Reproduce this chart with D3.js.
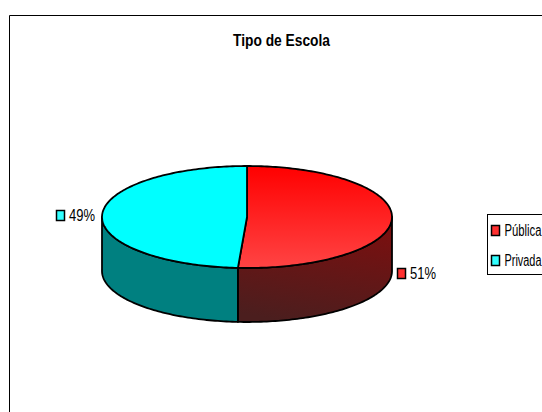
<!DOCTYPE html>
<html>
<head>
<meta charset="utf-8">
<script src="https://cdn.jsdelivr.net/npm/d3@7"></script>
<style>
  html, body { margin: 0; padding: 0; background: #fff; overflow: hidden; }
  svg { display: block; }
  text { font-family: "Liberation Sans", Arial, sans-serif; fill: #000; }
</style>
</head>
<body>
<script>
const chartTitle = "Tipo de Escola";
const categories = ["Pública", "Privada"];
const shares = [51, 49];
const topFills = ["url(#topRed)", "#00ffff"];
const sideFills = ["url(#sideRed)", "#008080"];
const swatchFills = ["#ff3030", "#33ffff"];

const width = 542, height = 412;
const cx = 247, cy = 217, rx = 145, ry = 51, depth = 54;

const svg = d3.select("body").append("svg")
  .attr("width", width).attr("height", height);

// Gradients for the red slice's lid and wall
const defs = svg.append("defs");
const lid = defs.append("linearGradient").attr("id", "topRed")
  .attr("x1", 0).attr("y1", 0).attr("x2", 0).attr("y2", 1);
lid.append("stop").attr("offset", 0).attr("stop-color", "#ff0000");
lid.append("stop").attr("offset", 1).attr("stop-color", "#ff4444");
const wall = defs.append("linearGradient").attr("id", "sideRed")
  .attr("x1", 0.6).attr("y1", 0).attr("x2", 0.35).attr("y2", 1);
wall.append("stop").attr("offset", 0).attr("stop-color", "#7c0f0f");
wall.append("stop").attr("offset", 1).attr("stop-color", "#4b1e1e");

// Chart area border: only the left and top edges fall inside the window
svg.append("path")
  .attr("d", d3.line()([[9.5, height], [9.5, 15.5], [width, 15.5]]))
  .attr("fill", "none").attr("stroke", "#000").attr("stroke-width", 1);

// Condensed lettering: the installed sans is squeezed to a set width
const squeezed = (sel, w) => sel
  .attr("textLength", w).attr("lengthAdjust", "spacingAndGlyphs");

svg.append("text")
  .attr("x", 233).attr("y", 45.5)
  .attr("font-size", 16).attr("font-weight", "bold")
  .text(chartTitle)
  .call(squeezed, 97);

// Slice angles run clockwise from twelve o'clock
const slices = d3.pie().sort(null).value(d => d)(shares);
const px = a => cx + rx * Math.sin(a);
const py = a => cy - ry * Math.cos(a);
const rimPoints = (a0, a1, dy = 0) => {
  const n = Math.max(2, Math.ceil(Math.abs(a1 - a0) / 0.02));
  return d3.range(n + 1).map(i => {
    const a = a0 + (a1 - a0) * i / n;
    return [px(a), py(a) + dy];
  });
};
const line = d3.line();
const outline = { stroke: "#000", width: 1.8 };

// Walls: only the front half of the rim (90° to 270°) is visible
const front = [Math.PI / 2, Math.PI * 1.5];
slices.forEach((s, i) => {
  const a0 = Math.max(s.startAngle, front[0]);
  const a1 = Math.min(s.endAngle, front[1]);
  if (a1 <= a0) return;
  const pts = rimPoints(a0, a1).concat(rimPoints(a1, a0, depth));
  svg.append("path")
    .attr("d", line(pts) + "Z")
    .attr("fill", sideFills[i])
    .attr("stroke", outline.stroke).attr("stroke-width", outline.width)
    .attr("stroke-linejoin", "round");
});

// Lid of each slice
slices.forEach((s, i) => {
  const pts = [[cx, cy]].concat(rimPoints(s.startAngle, s.endAngle));
  svg.append("path")
    .attr("d", line(pts) + "Z")
    .attr("fill", topFills[i])
    .attr("stroke", outline.stroke).attr("stroke-width", outline.width)
    .attr("stroke-linejoin", "round");
});

const swatch = (g, x, y, fill) => g.append("rect")
  .attr("x", x + 0.5).attr("y", y + 0.5).attr("width", 8).attr("height", 10)
  .attr("fill", fill).attr("stroke", "#000").attr("stroke-width", 1.5);

// Data labels beside the pie
const labelSpots = [[397, 279], [56, 221]];
slices.forEach((s, i) => {
  const [x, y] = labelSpots[i];
  swatch(svg, x, y - 11, swatchFills[i]);
  svg.append("text")
    .attr("x", x + 13).attr("y", y)
    .attr("font-size", 16)
    .text(d3.format(".0f")(shares[i]) + "%")
    .call(squeezed, 26);
});

// Legend box runs past the right edge of the window
svg.append("rect")
  .attr("x", 487.5).attr("y", 214.5).attr("width", 80).attr("height", 60)
  .attr("fill", "#fff").attr("stroke", "#000").attr("stroke-width", 1);
categories.forEach((c, i) => {
  const y = 236 + i * 30;
  swatch(svg, 491, y - 11, swatchFills[i]);
  svg.append("text")
    .attr("x", 504.5).attr("y", y)
    .attr("font-size", 16)
    .text(c)
    .call(squeezed, 37);
});
</script>
</body>
</html>
